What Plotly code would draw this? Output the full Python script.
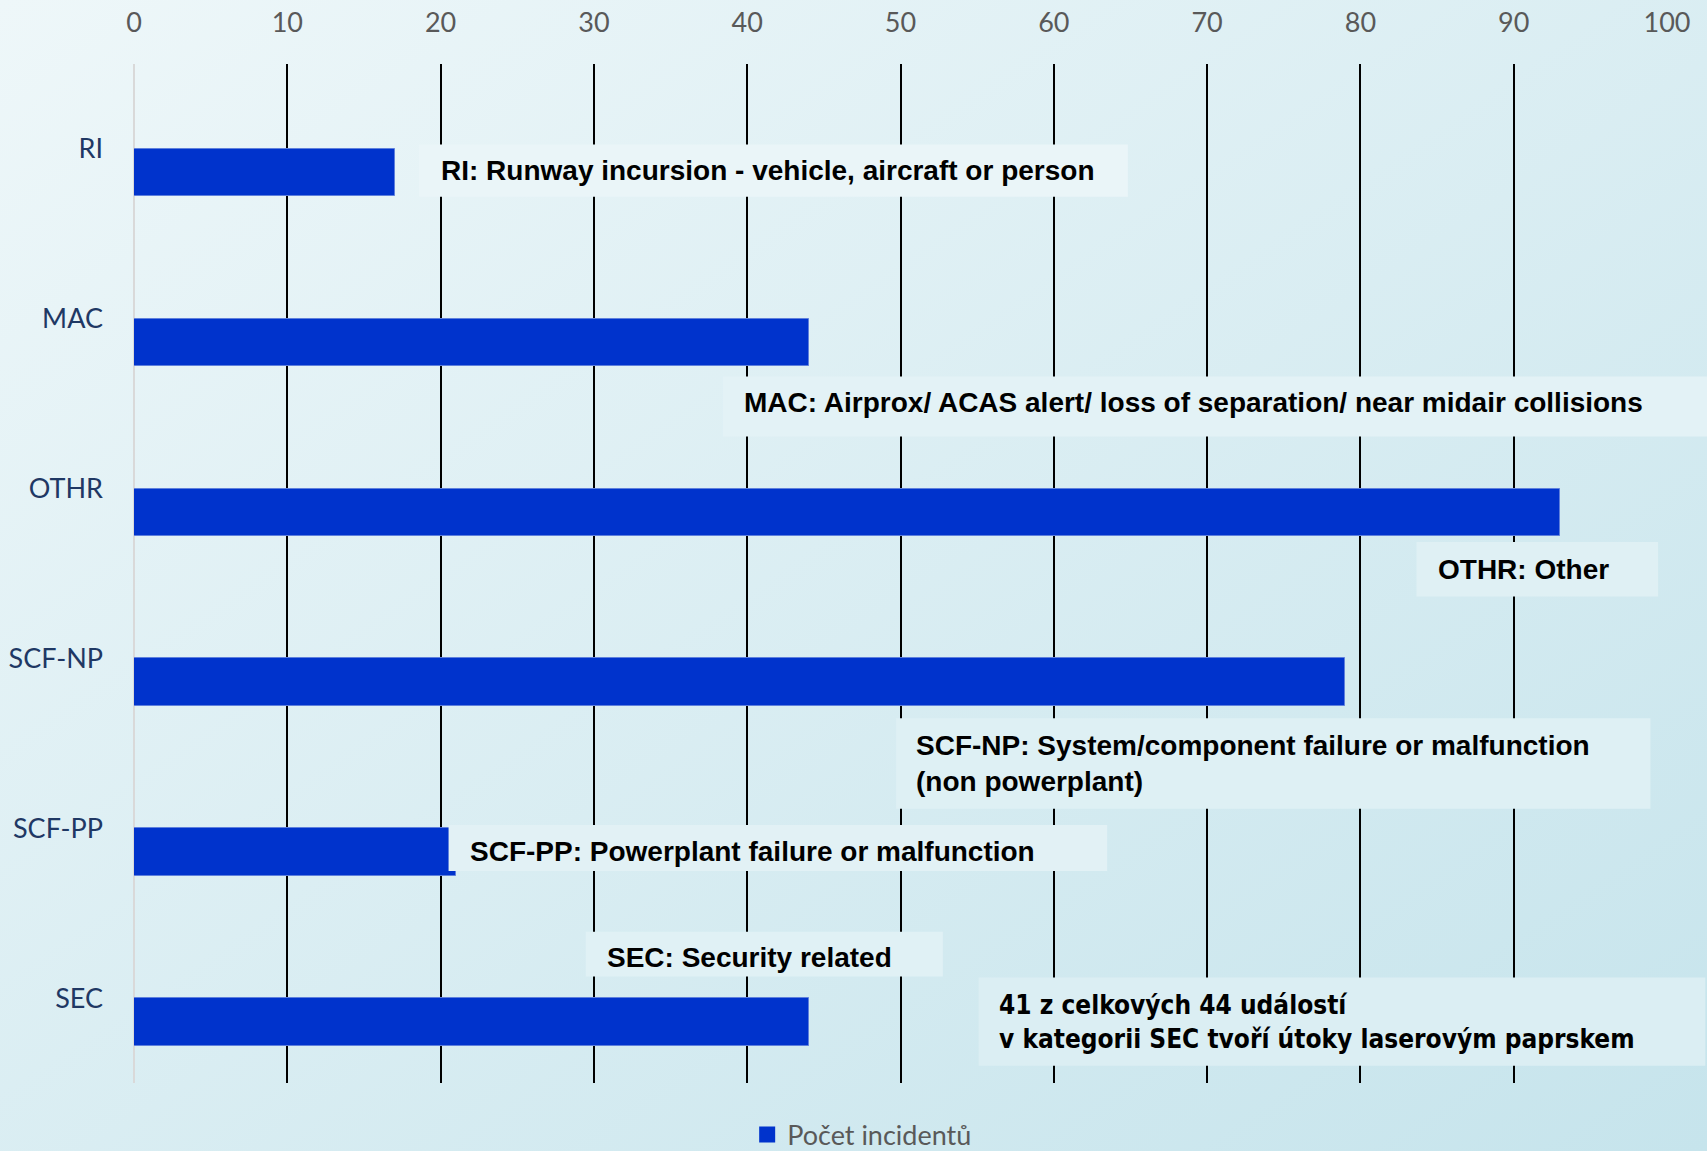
import base64
import plotly.graph_objects as go

# ---- data -------------------------------------------------------------
categories = ["RI", "MAC", "OTHR", "SCF-NP", "SCF-PP", "SEC"]
incidents = [17, 44, 93, 79, 21, 44]
x_ticks = list(range(0, 101, 10))
series_name = "Počet incidentů"

# category descriptions shown in boxes next to the bars
descriptions = [
    "RI: Runway incursion - vehicle, aircraft or person",
    "MAC: Airprox/ ACAS alert/ loss of separation/ near midair collisions",
    "OTHR: Other",
    "SCF-NP: System/component failure or malfunction<br>(non powerplant)",
    "SCF-PP: Powerplant failure or malfunction",
    "SEC: Security related",
]
sec_note = "41 z celkových 44 událostí<br>v kategorii SEC tvoří útoky laserovým paprskem"

# ---- page geometry ------------------------------------------------------
W, H = 1707, 1151
M_L, M_R, M_T, M_B = 134, 40, 64, 68
PLOT_W = W - M_L - M_R
PLOT_H = H - M_T - M_B
N_CAT = len(categories)
BAR_BLUE = "#0033CC"

# background gradient (top-left -> bottom-right)
C0 = (238, 247, 249)
C1 = (198, 228, 236)


def bg_at(px, py):
    t = (px / W + py / H) / 2
    return tuple(a + (b - a) * t for a, b in zip(C0, C1))


def lighten(rgb, k):
    r, g, b = (c + (255 - c) * k for c in rgb)
    return f"rgb({r:.0f},{g:.0f},{b:.0f})"


svg = (
    f"<svg xmlns='http://www.w3.org/2000/svg' width='{W}' height='{H}' preserveAspectRatio='none'>"
    "<defs><linearGradient id='g' x1='0' y1='0' x2='1' y2='1'>"
    f"<stop offset='0' stop-color='rgb{C0}'/>"
    f"<stop offset='1' stop-color='rgb{C1}'/>"
    "</linearGradient></defs>"
    f"<rect width='{W}' height='{H}' fill='url(#g)'/></svg>"
)
bg_uri = "data:image/svg+xml;base64," + base64.b64encode(svg.encode()).decode()


def xp(v):
    """x data value -> paper fraction"""
    return v / 100.0


def yp(c):
    """category position (reversed axis) -> paper fraction"""
    return 1 - (c + 0.5) / N_CAT


# label boxes: (text, box x0, box x1, box top, box bottom, text x, text y, font, size)
BOLD = "Liberation Sans, Arial, sans-serif"
NARROW = "Liberation Sans Narrow, Arial Narrow, DejaVu Sans Condensed, Liberation Sans, sans-serif"
boxes = [
    (descriptions[0], 18.6, 64.83, -0.026, 0.282, 19.88, 0.128, BOLD, 28),
    (descriptions[1], 38.41, 104.0, 1.340, 1.693, 39.69, 1.494, BOLD, 28),
    (descriptions[2], 83.66, 99.42, 2.314, 2.635, 84.93, 2.475, BOLD, 28),
    (descriptions[3], 49.71, 98.92, 3.353, 3.885, 50.91, 3.619, BOLD, 28),
    (descriptions[4], 20.52, 63.48, 3.981, 4.251, 21.79, 4.135, BOLD, 28),
    (descriptions[5], 29.47, 52.76, 4.610, 4.873, 30.74, 4.763, BOLD, 28),
    (sec_note, 55.10, 102.5, 4.879, 5.398, 56.31, 5.142, NARROW, 26),
]

fig = go.Figure()
fig.add_trace(
    go.Bar(
        y=categories,
        x=incidents,
        orientation="h",
        name=series_name,
        width=0.28,
        offset=0,
        marker=dict(color=BAR_BLUE, line=dict(color="#5F80DC", width=1)),
        hoverinfo="x+y",
        showlegend=False,
        legendgroup="inc",
    )
)
# legend entry with a larger square swatch
fig.add_trace(
    go.Scatter(
        x=[None],
        y=[None],
        mode="markers",
        name=series_name,
        marker=dict(symbol="square", size=17, color=BAR_BLUE),
        legendgroup="inc",
        showlegend=True,
    )
)

shapes = []
annotations = []
for text, x0, x1, y0, y1, tx, ty, fam, size in boxes:
    cx = M_L + PLOT_W * xp((x0 + x1) / 2)
    cy = M_T + PLOT_H * (1 - yp((y0 + y1) / 2))
    shapes.append(
        dict(
            type="rect",
            xref="paper",
            yref="paper",
            x0=xp(x0),
            x1=xp(x1),
            y0=yp(y1),
            y1=yp(y0),
            fillcolor=lighten(bg_at(cx, cy), 0.28),
            line=dict(width=0),
            layer="above",
        )
    )
    annotations.append(
        dict(
            xref="x",
            yref="y",
            x=tx,
            y=ty,
            text=f"<b>{text}</b>",
            showarrow=False,
            xanchor="left",
            yanchor="middle",
            align="left",
            font=dict(family=fam, size=size, color="#000000"),
        )
    )

fig.update_layout(
    width=W,
    height=H,
    margin=dict(l=M_L, r=M_R, t=M_T, b=M_B, pad=0, autoexpand=False),
    paper_bgcolor="rgba(0,0,0,0)",
    plot_bgcolor="rgba(0,0,0,0)",
    font=dict(family="Lato, Carlito, sans-serif"),
    xaxis=dict(
        range=[0, 100],
        side="top",
        tickvals=x_ticks,
        showgrid=True,
        gridcolor="#000000",
        gridwidth=1.6,
        zeroline=True,
        zerolinecolor="#D9D9D9",
        zerolinewidth=1.6,
        showline=False,
        ticks="",
        ticklabelstandoff=26,
        automargin=False,
        tickfont=dict(family="Lato, Carlito, sans-serif", size=27, color="#595959"),
        fixedrange=True,
    ),
    yaxis=dict(
        type="category",
        categoryorder="array",
        categoryarray=categories,
        range=[N_CAT - 0.5, -0.5],
        showgrid=False,
        zeroline=False,
        showline=False,
        ticks="",
        ticklabelstandoff=30,
        automargin=False,
        tickfont=dict(family="Lato, Carlito, sans-serif", size=27, color="#1F3864"),
        fixedrange=True,
    ),
    showlegend=True,
    legend=dict(
        orientation="h",
        x=0.475,
        xanchor="center",
        y=-0.051,
        yanchor="middle",
        itemwidth=30,
        bgcolor="rgba(0,0,0,0)",
        font=dict(family="Lato, Carlito, sans-serif", size=27, color="#595959"),
    ),
    bargap=0,
    shapes=shapes,
    annotations=annotations,
    images=[
        dict(
            source=bg_uri,
            xref="paper",
            yref="paper",
            x=-M_L / PLOT_W,
            y=1 + M_T / PLOT_H,
            sizex=W / PLOT_W,
            sizey=H / PLOT_H,
            xanchor="left",
            yanchor="top",
            sizing="stretch",
            layer="below",
        )
    ],
)

fig.write_html("out.html")
